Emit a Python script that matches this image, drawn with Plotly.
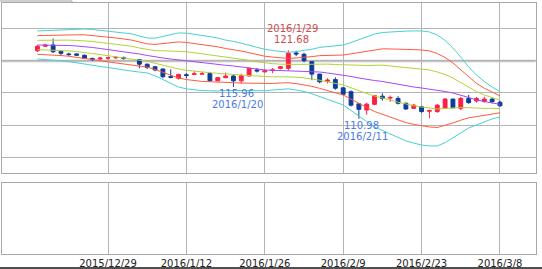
import plotly.graph_objects as go

dates = ["2015-12-16","2015-12-17","2015-12-18","2015-12-21","2015-12-22","2015-12-23","2015-12-24","2015-12-25",
         "2015-12-28","2015-12-29","2015-12-30","2015-12-31","2016-01-01","2016-01-04","2016-01-05","2016-01-06",
         "2016-01-07","2016-01-08","2016-01-11","2016-01-12","2016-01-13","2016-01-14","2016-01-15","2016-01-18",
         "2016-01-19","2016-01-20","2016-01-21","2016-01-22","2016-01-25","2016-01-26","2016-01-27","2016-01-28",
         "2016-01-29","2016-02-01","2016-02-02","2016-02-03","2016-02-04","2016-02-05","2016-02-08","2016-02-09",
         "2016-02-10","2016-02-11","2016-02-12","2016-02-15","2016-02-16","2016-02-17","2016-02-18","2016-02-19",
         "2016-02-22","2016-02-23","2016-02-24","2016-02-25","2016-02-26","2016-02-29","2016-03-01","2016-03-02",
         "2016-03-03","2016-03-04","2016-03-07","2016-03-08"]

opens  = [121.6, 122.3, 122.5, 121.5, 121.1, 121.1, 120.9, 120.4, 120.3, 120.45, 120.5, 120.5, None,
          120.2, 119.5, 119.1, 118.75, 117.55, 117.3, 117.85, 117.9, 117.95, 118.05, 116.9, 117.4, 117.65,
          116.9, 117.65, 118.6, 118.3, 118.5, 118.85, 118.85, 121.25, 121.05, 119.9, 117.95, 116.85, 117.1,
          115.8, 115.2, 113.3, 112.35, 113.23, 114.5, 114.2, 114.15, 113.4, 112.6, 112.85, 112.15, 112.1,
          112.6, 114.05, 112.6, 114.15, 113.75, 113.65, 114.05, 113.55]
highs  = [122.5, 122.7, 123.5, 121.6, 121.3, 121.2, 121.0, 120.5, 120.6, 120.6, 120.8, 120.7, None,
          120.3, 119.6, 119.2, 118.8, 118.7, 118.0, 118.1, 118.4, 118.3, 118.3, 117.5, 118.2, 117.8,
          118.0, 119.0, 118.9, 118.7, 118.9, 119.2, 121.68, 121.6, 121.3, 120.0, 118.0, 117.3, 117.45,
          115.9, 115.4, 113.4, 113.5, 114.7, 114.95, 114.6, 114.5, 113.5, 113.3, 113.0, 112.4, 113.3,
          114.2, 114.1, 114.4, 114.7, 114.4, 114.4, 114.2, 113.8]
lows   = [121.4, 122.2, 121.25, 120.9, 120.8, 120.8, 120.3, 120.0, 120.2, 120.2, 120.3, 120.2, None,
          118.85, 118.75, 118.4, 117.3, 117.3, 117.1, 117.3, 117.8, 117.9, 116.8, 116.8, 117.3, 115.96,
          116.5, 117.6, 118.2, 118.2, 118.1, 118.7, 118.5, 120.75, 119.8, 117.0, 116.5, 116.5, 115.5,
          114.6, 112.9, 110.98, 111.6, 113.1, 113.8, 113.6, 113.2, 112.4, 112.5, 111.9, 111.05, 111.9,
          112.5, 112.6, 112.3, 113.3, 113.5, 113.5, 113.4, 112.9]
closes = [122.3, 122.5, 121.45, 121.2, 121.0, 120.9, 120.4, 120.2, 120.45, 120.5, 120.55, 120.4, None,
          119.5, 119.0, 118.6, 117.55, 117.45, 117.9, 117.75, 118.0, 118.0, 116.9, 117.4, 117.65, 116.9,
          117.7, 118.85, 118.45, 118.5, 118.6, 119.1, 121.2, 121.1, 120.05, 117.95, 116.75, 117.0, 115.75,
          114.8, 113.1, 112.45, 113.25, 114.58, 114.15, 114.3, 113.4, 112.5, 113.1, 112.1, 112.25, 113.1,
          114.05, 112.7, 114.15, 113.5, 114.15, 114.05, 113.65, 113.0]

# Bollinger middle line (20-day MA) and sigma
ma20 = [122.50, 122.50, 122.50, 122.47, 122.42, 122.34, 122.27, 122.11, 121.95, 121.80, 121.64, 121.48,
        121.33, 121.09, 120.86, 120.63, 120.47, 120.31, 120.16, 120.00, 119.84, 119.69, 119.58, 119.45,
        119.33, 119.22, 119.06, 118.91, 118.75, 118.59, 118.55, 118.52, 118.50, 118.47, 118.42, 118.36,
        118.28, 118.13, 117.97, 117.81, 117.58, 117.34, 117.11, 116.95, 116.80, 116.56, 116.33, 116.09,
        115.94, 115.78, 115.63, 115.39, 115.23, 115.00, 114.69, 114.30, 113.91, 113.64, 113.44, 113.23]
sigma = [0.73, 0.75, 0.78, 0.81, 0.84, 0.875, 0.91, 0.94, 0.95, 0.97, 0.98, 0.98,
         0.97, 0.94, 0.91, 0.98, 1.13, 1.25, 1.41, 1.45, 1.45, 1.44, 1.41, 1.38,
         1.31, 1.28, 1.25, 1.19, 1.13, 1.08, 1.03, 0.98, 0.95, 1.00, 1.06, 1.16,
         1.28, 1.38, 1.47, 1.56, 1.77, 2.00, 2.19, 2.42, 2.55, 2.66, 2.77, 2.86,
         2.92, 2.97, 2.97, 2.89, 2.66, 2.34, 1.97, 1.59, 1.30, 1.05, 0.83, 0.66]

tick_dates = ["2015-12-29", "2016-01-12", "2016-01-26", "2016-02-09", "2016-02-23", "2016-03-08"]
tick_labels = ["2015/12/29", "2016/1/12", "2016/1/26", "2016/2/9", "2016/2/23", "2016/3/8"]
price_grid = [105, 110, 115, 120, 125]

band_styles = [(3, "#48d0d0"), (2, "#ff5a3c"), (1, "#b4d236")]

fig = go.Figure()

for k, col in band_styles:
    for sgn in (1, -1):
        fig.add_trace(go.Scatter(
            x=dates, y=[m + sgn * k * s for m, s in zip(ma20, sigma)],
            mode="lines", line=dict(color=col, width=1),
            hoverinfo="skip", showlegend=False, xaxis="x", yaxis="y"))
fig.add_trace(go.Scatter(x=dates, y=ma20, mode="lines", line=dict(color="#a846f5", width=1),
                         hoverinfo="skip", showlegend=False, xaxis="x", yaxis="y"))

fig.add_trace(go.Candlestick(
    x=dates, open=opens, high=highs, low=lows, close=closes,
    increasing=dict(line=dict(color="#ff1e46", width=1), fillcolor="#ff1e46"),
    decreasing=dict(line=dict(color="#0c3c9c", width=1), fillcolor="#0c3c9c"),
    whiskerwidth=0, hoverinfo="skip", showlegend=False, xaxis="x", yaxis="y"))

# empty lower panel
fig.add_trace(go.Scatter(x=dates, y=[None] * len(dates), mode="lines", hoverinfo="skip",
                         showlegend=False, xaxis="x2", yaxis="y2"))

xdom = [1.7 / 542, 535.5 / 542]
common_x = dict(type="category", categoryorder="array", categoryarray=dates,
                range=[-4.56, 63.53], tickvals=tick_dates, showgrid=True, gridcolor="#b4b4b4",
                gridwidth=1, showline=True, linecolor="#a8a8a8", mirror=True, ticks="",
                zeroline=False, fixedrange=True)

fig.update_layout(
    width=542, height=269, margin=dict(l=0, r=0, t=0, b=0),
    paper_bgcolor="white", plot_bgcolor="white",
    xaxis=dict(domain=xdom, anchor="y", showticklabels=False, rangeslider=dict(visible=False), **common_x),
    yaxis=dict(domain=[1 - 173 / 269, 1 - 3 / 269], range=[102.5, 129.06], tickvals=price_grid,
               showticklabels=False, showgrid=True, gridcolor="#b4b4b4", showline=True,
               linecolor="#a8a8a8", mirror=True, ticks="", zeroline=False),
    xaxis2=dict(domain=xdom, anchor="y2", showticklabels=True, ticktext=tick_labels,
                tickfont=dict(family="DejaVu Sans", size=10, color="#222222"), **common_x),
    yaxis2=dict(domain=[1 - 254.3 / 269, 1 - 183.3 / 269], range=[0, 1], showgrid=False,
                showticklabels=False, showline=True, linecolor="#a8a8a8", mirror=True,
                ticks="", zeroline=False),
    font=dict(family="DejaVu Sans", size=10),
)

# thicker 120 line
fig.add_shape(type="line", xref="x domain", yref="y", x0=0, x1=1, y0=120, y1=120,
              line=dict(color="#c4c4c4", width=2.5), layer="below")
# bottom dark edge and small top-left tab line
fig.add_shape(type="rect", xref="paper", yref="paper", x0=0, x1=1, y0=0, y1=2 / 269,
              line=dict(width=0), fillcolor="#505050")
fig.add_shape(type="path", xref="paper", yref="paper",
              path=f"M 0 {1 - 1 / 269} L {72 / 542} {1 - 1 / 269} L {72 / 542} {1 - 3 / 269}",
              line=dict(color="#a0a0a0", width=1))

red_txt = "#d04a4a"
blue_txt = "#4a7ae8"
notes = [
    ("2016-01-29", 121.68, "2016/1/29", 22.2, 4, red_txt),
    ("2016-01-29", 121.68, "121.68", 10.7, 3.5, red_txt),
    ("2016-01-20", 115.96, "115.96", -6.6, 3.5, blue_txt),
    ("2016-01-20", 115.96, "2016/1/20", -17.4, 4.5, blue_txt),
    ("2016-02-11", 110.98, "110.98", -6.8, 3, blue_txt),
    ("2016-02-11", 110.98, "2016/2/11", -17.3, 4, blue_txt),
]
for xd, yv, txt, ys, xs, col in notes:
    fig.add_annotation(x=xd, y=yv, xref="x", yref="y", text=txt, showarrow=False,
                       yshift=ys, xshift=xs, xanchor="center", yanchor="middle",
                       font=dict(family="DejaVu Sans", size=10, color=col))

fig.write_html("out.html")
